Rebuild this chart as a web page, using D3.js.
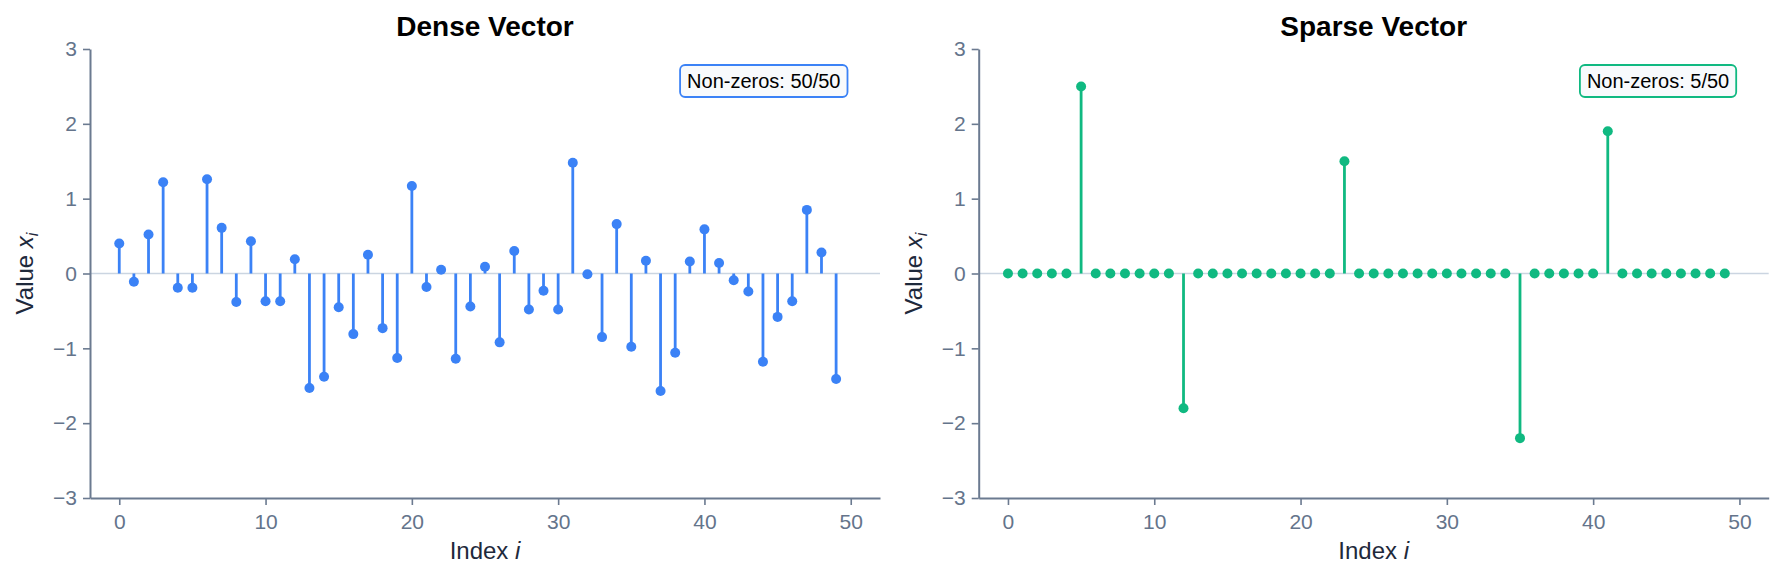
<!DOCTYPE html>
<html>
<head>
<meta charset="utf-8">
<script src="https://cdn.jsdelivr.net/npm/d3@7"></script>
<style>
  body { margin: 0; background: #fff; }
  svg { display: block; font-family: "Liberation Sans", Arial, sans-serif; }
</style>
</head>
<body>
<svg id="chart" width="1781" height="579"></svg>
<script>
// values
const indices = d3.range(50);

const denseValues = [
  0.40, -0.11, 0.52, 1.22, -0.19, -0.19, 1.26, 0.61, -0.38, 0.43,
  -0.37, -0.37, 0.19, -1.53, -1.38, -0.45, -0.81, 0.25, -0.73, -1.13,
  1.17, -0.18, 0.05, -1.14, -0.44, 0.09, -0.92, 0.30, -0.48, -0.23,
  -0.48, 1.48, -0.01, -0.85, 0.66, -0.98, 0.17, -1.57, -1.06, 0.16,
  0.59, 0.14, -0.09, -0.24, -1.18, -0.58, -0.37, 0.85, 0.28, -1.41
];

const sparseNonZero = [
  { i: 5, v: 2.5 },
  { i: 12, v: -1.8 },
  { i: 23, v: 1.5 },
  { i: 35, v: -2.2 },
  { i: 41, v: 1.9 }
];
const sparseValues = indices.map(i => {
  let hit = sparseNonZero.find(d => d.i === i);
  return hit ? hit.v : 0;
});

const xTicks = [0, 10, 20, 30, 40, 50];
const yTicks = [-3, -2, -1, 0, 1, 2, 3];

const panels = [
  { title: 'Dense Vector', values: denseValues, color: '#3b82f6', left: 90 },
  { title: 'Sparse Vector', values: sparseValues, color: '#10b981', left: 978.7 }
];

const plotW = 790, plotTop = 49, plotBottom = 498;
const axisColor = '#6b7a90';
const tickColor = '#64748b';

let svg = d3.select('#chart');

panels.forEach(p => {
  let x = d3.scaleLinear().domain([-2, 52]).range([p.left, p.left + plotW]);
  let y = d3.scaleLinear().domain([-3, 3]).range([plotBottom, plotTop]);

  let g = svg.append('g');

  // zero baseline
  g.append('line')
    .attr('x1', x(-2)).attr('x2', x(52))
    .attr('y1', y(0)).attr('y2', y(0))
    .attr('stroke', '#cbd5e1')
    .attr('stroke-width', 1.6);

  // stems
  let data = p.values.map((v, i) => ({ i: i, v: v }));
  g.selectAll('.stem')
    .data(data.filter(d => d.v !== 0))
    .enter()
    .append('line')
    .attr('class', 'stem')
    .attr('x1', d => x(d.i)).attr('x2', d => x(d.i))
    .attr('y1', y(0)).attr('y2', d => y(d.v))
    .attr('stroke', p.color)
    .attr('stroke-width', 2.8);

  g.selectAll('.dot')
    .data(data)
    .enter()
    .append('circle')
    .attr('class', 'dot')
    .attr('cx', d => x(d.i))
    .attr('cy', d => y(d.v))
    .attr('r', 5)
    .attr('fill', p.color);

  // axes
  let xAxis = g.append('g')
    .attr('transform', `translate(0,${plotBottom})`)
    .call(d3.axisBottom(x).tickValues(xTicks).tickFormat(d3.format('d'))
      .tickSize(7).tickPadding(9).tickSizeOuter(0));
  let yAxis = g.append('g')
    .attr('transform', `translate(${p.left},0)`)
    .call(d3.axisLeft(y).tickValues(yTicks).tickFormat(d3.format('d'))
      .tickSize(7).tickPadding(6).tickSizeOuter(0));

  [xAxis, yAxis].forEach(a => {
    a.select('.domain').attr('stroke', axisColor).attr('stroke-width', 2);
    a.selectAll('.tick line').attr('stroke', axisColor).attr('stroke-width', 1.6);
    a.selectAll('.tick text')
      .attr('fill', tickColor)
      .style('font-size', '21px')
      .style('font-family', '"Liberation Sans", Arial, sans-serif');
  });

  // title
  g.append('text')
    .attr('x', p.left + plotW / 2)
    .attr('y', 36)
    .attr('text-anchor', 'middle')
    .style('font-size', '28px')
    .style('font-weight', 'bold')
    .attr('fill', '#000')
    .text(p.title);

  // x label
  let xl = g.append('text')
    .attr('x', p.left + plotW / 2)
    .attr('y', 559)
    .attr('text-anchor', 'middle')
    .style('font-size', '24px')
    .attr('fill', '#1e293b');
  xl.append('tspan').text('Index ');
  xl.append('tspan').style('font-style', 'italic').text('i');

  // y label
  let yl = g.append('text')
    .attr('transform', `translate(${p.left - 57},${(plotTop + plotBottom) / 2}) rotate(-90)`)
    .attr('text-anchor', 'middle')
    .style('font-size', '24px')
    .attr('fill', '#1e293b');
  yl.append('tspan').text('Value ');
  yl.append('tspan').style('font-style', 'italic').text('x');
  yl.append('tspan').style('font-style', 'italic').style('font-size', '16px')
    .attr('dy', 5).text('i');

  // non-zero count box
  let nnz = p.values.filter(v => v !== 0).length;
  let label = g.append('text')
    .attr('x', p.left + plotW * 0.95)
    .attr('y', 88)
    .attr('text-anchor', 'end')
    .style('font-size', '20px')
    .attr('fill', '#000')
    .text(`Non-zeros: ${nnz}/${p.values.length}`);
  let bb = label.node().getBBox();
  g.append('rect')
    .attr('x', bb.x - 7)
    .attr('y', 65)
    .attr('width', bb.width + 14)
    .attr('height', 32)
    .attr('rx', 5)
    .attr('fill', '#f8fafc')
    .attr('stroke', p.color)
    .attr('stroke-width', 1.8);
  label.raise();
});
</script>
</body>
</html>
